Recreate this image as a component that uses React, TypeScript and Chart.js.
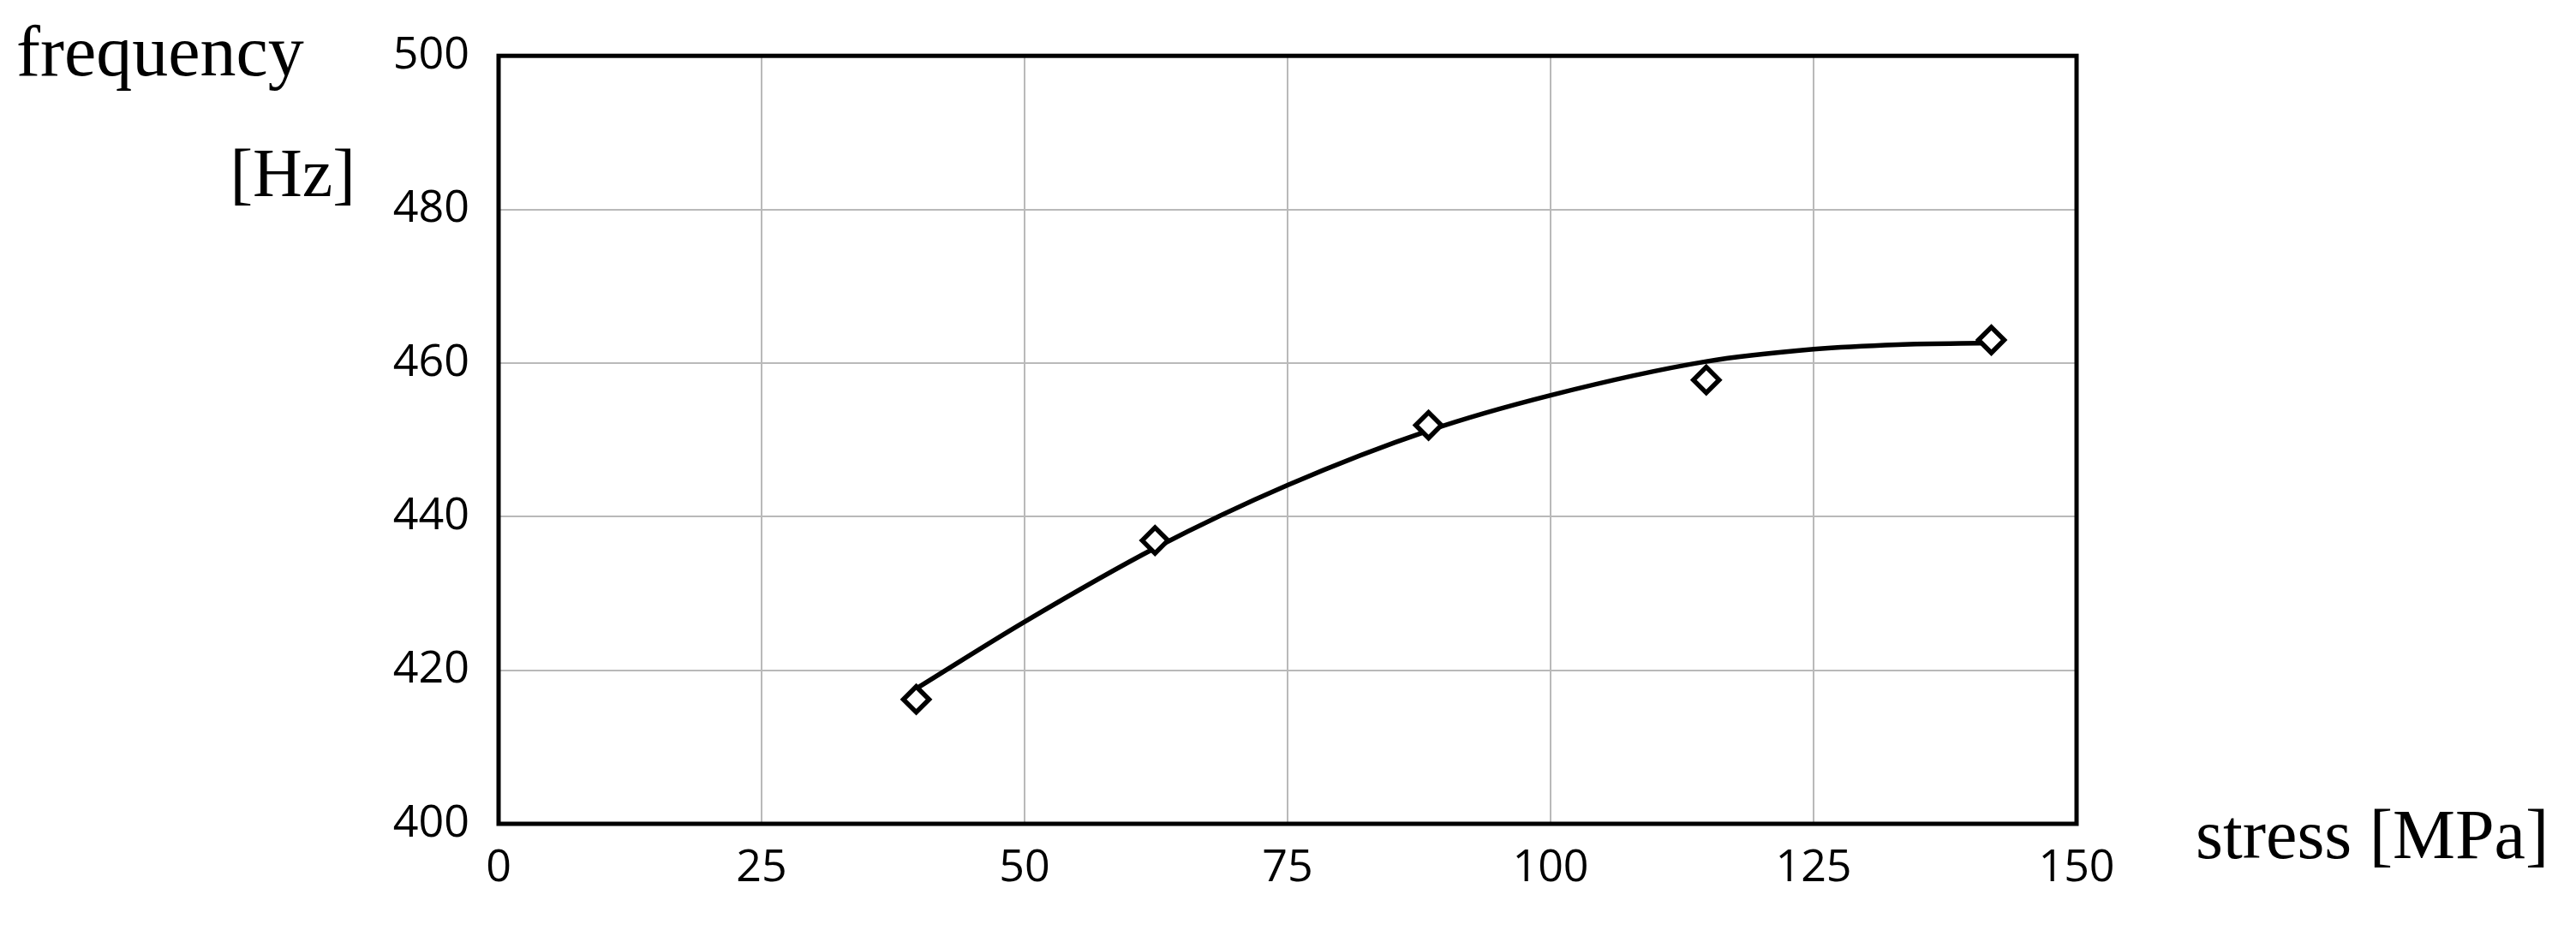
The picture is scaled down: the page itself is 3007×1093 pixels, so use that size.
import React, { useEffect, useRef } from "react";
import { Chart, registerables } from "chart.js";

Chart.register(...registerables);

// Measured points (stress [MPa], frequency [Hz])
const stressValues = [39.7, 62.4, 88.4, 114.8, 141.9];
const frequencyValues = [416.2, 436.9, 451.9, 457.8, 463.0];

// Trend curve
const trendStress = [39.7, 50, 62.4, 75, 88.4, 100, 114.8, 125, 133, 141.9];
const trendFrequency = [417.6, 426.3, 435.9, 444.1, 451.2, 455.8, 460.2, 461.8, 462.4, 462.6];

// Axis ticks
const xTicks = [0, 25, 50, 75, 100, 125, 150];
const yTicks = [400, 420, 440, 460, 480, 500];

// Titles
const yTitleTop = "frequency";
const yTitleUnit = "[Hz]";
const xTitle = "stress [MPa]";

const W = 3007;
const H = 1093;

const framePlugin = {
  id: "frame",
  beforeDatasetsDraw(chart: any) {
    const { ctx, chartArea } = chart;
    ctx.save();
    ctx.strokeStyle = "#000";
    ctx.lineWidth = 5;
    ctx.strokeRect(
      chartArea.left,
      chartArea.top,
      chartArea.right - chartArea.left,
      chartArea.bottom - chartArea.top
    );
    ctx.restore();
  },
};

const titlesPlugin = {
  id: "titles",
  afterDraw(chart: any) {
    const { ctx } = chart;
    ctx.save();
    ctx.fillStyle = "#000";
    ctx.textBaseline = "alphabetic";
    ctx.font = '84px "Liberation Serif", "Times New Roman", serif';
    ctx.textAlign = "left";
    ctx.fillText(yTitleTop, 19, 88);
    ctx.font = '80px "Liberation Serif", "Times New Roman", serif';
    ctx.textAlign = "right";
    ctx.fillText(yTitleUnit, 415, 229);
    ctx.font = '82px "Liberation Serif", "Times New Roman", serif';
    ctx.textAlign = "left";
    ctx.fillText(xTitle, 2563, 1002);
    ctx.restore();
  },
};

export default function App() {
  const ref = useRef<HTMLCanvasElement | null>(null);

  useEffect(() => {
    if (!ref.current) return;
    const tickFont = { family: '"Open Sans", "Noto Sans", sans-serif', size: 52 };
    const chart = new Chart(ref.current, {
      type: "scatter",
      data: {
        datasets: [
          {
            label: "points",
            data: stressValues.map((x, i) => ({ x, y: frequencyValues[i] })),
            showLine: false,
            pointStyle: "rectRot",
            pointRadius: 15,
            pointHoverRadius: 15,
            pointBorderWidth: 5.5,
            pointBackgroundColor: "#fff",
            pointBorderColor: "#000",
            borderColor: "#000",
            backgroundColor: "#fff",
            order: 1,
          },
          {
            label: "trend",
            type: "line",
            data: trendStress.map((x, i) => ({ x, y: trendFrequency[i] })),
            showLine: true,
            borderColor: "#000",
            borderWidth: 5.5,
            pointRadius: 0,
            fill: false,
            cubicInterpolationMode: "monotone",
            order: 2,
          } as any,
        ],
      },
      options: {
        animation: false,
        responsive: false,
        devicePixelRatio: 1,
        events: [],
        layout: { padding: { left: 0, top: 63, right: 583, bottom: 0 } },
        plugins: {
          legend: { display: false },
          tooltip: { enabled: false },
        },
        scales: {
          x: {
            type: "linear",
            min: 0,
            max: 150,
            afterBuildTicks: (s: any) => {
              s.ticks = xTicks.map((v) => ({ value: v }));
            },
            afterFit: (s: any) => {
              s.height = 131;
            },
            grid: { color: "#B9B9B9", lineWidth: 2, drawTicks: false },
            border: { display: false },
            ticks: { color: "#000", font: tickFont, padding: 21, maxRotation: 0 },
          },
          y: {
            type: "linear",
            min: 400,
            max: 500,
            afterBuildTicks: (s: any) => {
              s.ticks = yTicks.map((v) => ({ value: v }));
            },
            afterFit: (s: any) => {
              s.width = 582;
            },
            grid: { color: "#B9B9B9", lineWidth: 2, drawTicks: false },
            border: { display: false },
            ticks: { color: "#000", font: tickFont, padding: 34 },
          },
        },
      },
      plugins: [framePlugin, titlesPlugin],
    });
    return () => chart.destroy();
  }, []);

  return (
    <div style={{ position: "absolute", left: 0, top: 0, width: W, height: H, background: "#fff" }}>
      <canvas ref={ref} width={W} height={H} style={{ display: "block", width: W, height: H }} />
    </div>
  );
}
